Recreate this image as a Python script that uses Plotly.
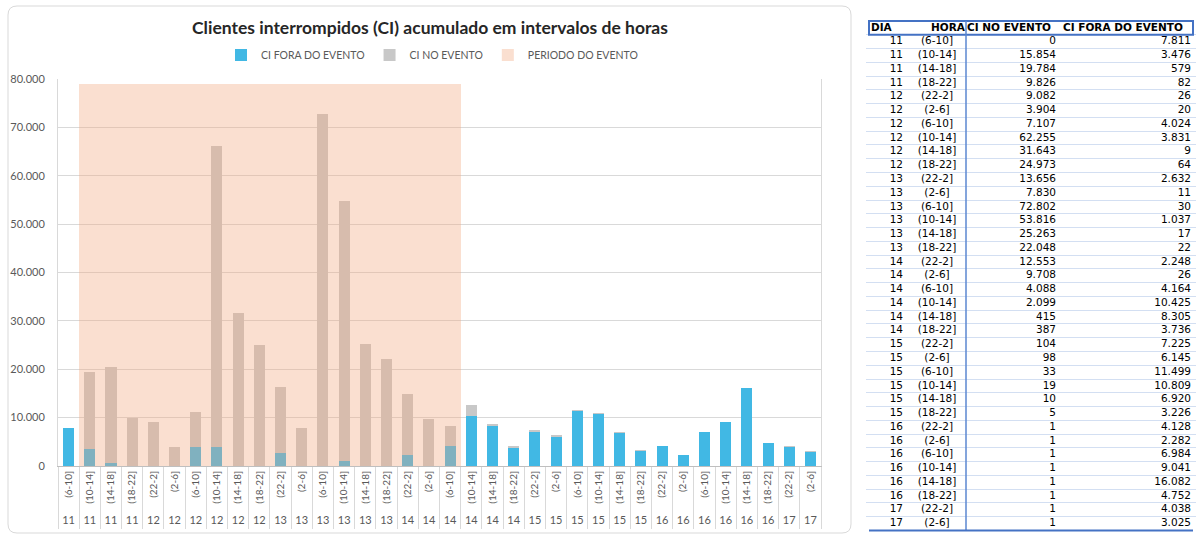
import plotly.graph_objects as go

dias = [11, 11, 11, 11, 12, 12, 12, 12, 12, 12, 13, 13, 13, 13, 13, 13, 14, 14,
        14, 14, 14, 14, 15, 15, 15, 15, 15, 15, 16, 16, 16, 16, 16, 16, 17, 17]
horas = ["(6-10]", "(10-14]", "(14-18]", "(18-22]", "(22-2]", "(2-6]", "(6-10]", "(10-14]",
         "(14-18]", "(18-22]", "(22-2]", "(2-6]", "(6-10]", "(10-14]", "(14-18]", "(18-22]",
         "(22-2]", "(2-6]", "(6-10]", "(10-14]", "(14-18]", "(18-22]", "(22-2]", "(2-6]",
         "(6-10]", "(10-14]", "(14-18]", "(18-22]", "(22-2]", "(2-6]", "(6-10]", "(10-14]",
         "(14-18]", "(18-22]", "(22-2]", "(2-6]"]
ci_no_evento = [0, 15854, 19784, 9826, 9082, 3904, 7107, 62255, 31643, 24973, 13656, 7830,
                72802, 53816, 25263, 22048, 12553, 9708, 4088, 2099, 415, 387, 104, 98,
                33, 19, 10, 5, 1, 1, 1, 1, 1, 1, 1, 1]
ci_fora_evento = [7811, 3476, 579, 82, 26, 20, 4024, 3831, 9, 64, 2632, 11, 30, 1037, 17, 22,
                  2248, 26, 4164, 10425, 8305, 3736, 7225, 6145, 11499, 10809, 6920, 3226,
                  4128, 2282, 6984, 9041, 16082, 4752, 4038, 3025]
periodo_evento = [0, 79000, 79000, 79000, 79000, 79000, 79000, 79000, 79000, 79000, 79000,
                  79000, 79000, 79000, 79000, 79000, 79000, 79000, 79000, 0, 0, 0, 0, 0, 0,
                  0, 0, 0, 0, 0, 0, 0, 0, 0, 0, 0]
y_ticks = [0, 10000, 20000, 30000, 40000, 50000, 60000, 70000, 80000]
table_header = ["DIA", "HORA", "CI NO EVENTO", "CI FORA DO EVENTO"]

W, H = 1200, 534
cats = [f"{d} {h}" for d, h in zip(dias, horas)]
n = len(dias)


def px_x(x):
    return x / W


def px_y(y):
    return 1 - y / H


def fmt(v):
    return f"{v:,}".replace(",", ".")


BLUE = "#41B8E4"
GRAY = "#C8C8C8"
PEACH = "rgba(241,167,125,0.36)"
TXT = "#595959"
FONT = "Lato"
TFONT = "DejaVu Sans"
TSIZE = 10.5

fig = go.Figure()
fig.add_trace(go.Bar(x=cats, y=ci_fora_evento, name="CI FORA DO EVENTO",
                     marker=dict(color=BLUE, line=dict(width=0)), xaxis="x", yaxis="y"))
fig.add_trace(go.Bar(x=cats, y=ci_no_evento, name="CI NO EVENTO",
                     marker=dict(color=GRAY, line=dict(width=0)), xaxis="x", yaxis="y"))
fig.add_trace(go.Bar(x=cats, y=periodo_evento, name="PERIODO DO EVENTO", width=1,
                     marker=dict(color=PEACH, line=dict(width=0)), xaxis="x2", yaxis="y"))

# ---- table drawn as text on its own axes (x in px units of the table box, y = row) ----
rows = list(range(1, n + 1))
table_cols = [
    # (values, anchor x, textposition)
    ([str(d) for d in dias], 903, "middle left"),
    (horas, 937, "middle center"),
    ([fmt(v) for v in ci_no_evento], 1056, "middle left"),
    ([fmt(v) for v in ci_fora_evento], 1191, "middle left"),
]
header_cols = [(871, "middle right"), (965, "middle left"), (967, "middle right"),
               (1063, "middle right")]

for vals, xa, tp in table_cols:
    fig.add_trace(go.Scatter(x=[xa] * n, y=rows, text=vals, mode="text", textposition=tp,
                             textfont=dict(family=TFONT, size=TSIZE, color="black"),
                             xaxis="x3", yaxis="y3", showlegend=False, hoverinfo="skip"))
fig.add_trace(go.Scatter(x=[c[0] for c in header_cols], y=[0] * len(header_cols),
                         text=["<b>" + h + "</b>" for h in table_header], mode="text",
                         textposition=[c[1] for c in header_cols],
                         textfont=dict(family=TFONT, size=TSIZE, color="black"),
                         xaxis="x3", yaxis="y3", showlegend=False, hoverinfo="skip"))

x0, x1, y0, y1, r = 8, 851, 6, 533, 9
path = (f"M {px_x(x0 + r)},{px_y(y0)} L {px_x(x1 - r)},{px_y(y0)} "
        f"Q {px_x(x1)},{px_y(y0)} {px_x(x1)},{px_y(y0 + r)} L {px_x(x1)},{px_y(y1 - r)} "
        f"Q {px_x(x1)},{px_y(y1)} {px_x(x1 - r)},{px_y(y1)} L {px_x(x0 + r)},{px_y(y1)} "
        f"Q {px_x(x0)},{px_y(y1)} {px_x(x0)},{px_y(y1 - r)} L {px_x(x0)},{px_y(y0 + r)} "
        f"Q {px_x(x0)},{px_y(y0)} {px_x(x0 + r)},{px_y(y0)} Z")

shapes = [
    dict(type="path", path=path, xref="paper", yref="paper",
         line=dict(color="#D9D9D9", width=1), layer="below"),
    # table header box, column divider and bottom rule
    dict(type="rect", xref="x3", yref="y3", x0=869, x1=1193, y0=-0.5, y1=0.5,
         line=dict(color="#4472C4", width=2)),
    dict(type="line", xref="x3", yref="y3", x0=966, x1=966, y0=-0.5, y1=n + 0.5,
         line=dict(color="#5B87D0", width=1.5)),
    dict(type="line", xref="x3", yref="y3", x0=869, x1=1193, y0=n + 0.5, y1=n + 0.5,
         line=dict(color="#4472C4", width=2)),
]

row_h = (530.5 - 21) / (n + 1)
pad_rows = 0.2

fig.update_layout(
    width=W, height=H,
    margin=dict(l=0, r=0, t=0, b=0),
    paper_bgcolor="white", plot_bgcolor="white",
    separators=",.",
    barmode="stack", bargap=0.48,
    font=dict(family=FONT, size=11, color=TXT),
    title=dict(text="<b>Clientes interrompidos (CI) acumulado em intervalos de horas</b>",
               x=px_x(430), xanchor="center", y=px_y(28), yanchor="middle",
               font=dict(family=FONT, size=17.5, color="#262626")),
    legend=dict(orientation="h", x=px_x(432), xanchor="center", y=px_y(55), yanchor="middle",
                font=dict(family=FONT, size=10.5, color=TXT), itemwidth=30,
                traceorder="normal", bgcolor="rgba(0,0,0,0)"),
    showlegend=True,
    xaxis=dict(domain=[px_x(58), px_x(821)], type="category", categoryorder="array",
               categoryarray=cats, range=[-0.5, 35.5], tickmode="array", tickvals=cats,
               ticktext=horas, tickangle=-90, ticks="outside", tickson="boundaries",
               ticklen=62, tickcolor="#D9D9D9", tickwidth=1, ticklabelstandoff=0,
               showline=True, linecolor="#BFBFBF", linewidth=1, showgrid=False,
               tickfont=dict(family=FONT, size=10, color=TXT), automargin=False,
               anchor="y", fixedrange=True),
    xaxis2=dict(overlaying="x", anchor="y", side="bottom", type="category",
                categoryorder="array", categoryarray=cats, range=[-0.5, 35.5],
                tickmode="array", tickvals=cats, ticktext=[str(d) for d in dias],
                tickangle=0, ticks="", showline=False, showgrid=False, ticklabelstandoff=46,
                tickfont=dict(family=FONT, size=11, color=TXT), automargin=False),
    yaxis=dict(domain=[px_y(466), px_y(79)], range=[0, 80000], tickmode="array",
               tickvals=y_ticks, tickformat=",d", showgrid=True, gridcolor="#D9D9D9",
               gridwidth=1, showline=True, mirror=True, linecolor="#D9D9D9", linewidth=1,
               zeroline=False, ticks="", ticklabelstandoff=10,
               tickfont=dict(family=FONT, size=11, color=TXT), automargin=False),
    xaxis3=dict(domain=[px_x(866), px_x(1196)], range=[866, 1196], anchor="y3",
                visible=False, fixedrange=True),
    yaxis3=dict(domain=[px_y(530.5 + pad_rows * row_h), px_y(21 - pad_rows * row_h)],
                range=[n + 0.5 + pad_rows, -0.5 - pad_rows], anchor="x3",
                tickmode="array", tickvals=[k + 0.5 for k in range(n)], showgrid=True,
                gridcolor="#D3DFF2", gridwidth=1, showticklabels=False, ticks="",
                showline=False, zeroline=False, fixedrange=True),
    shapes=shapes,
)

fig.write_html("out.html", config={"displayModeBar": False},
               post_script="document.body.style.margin='0';document.body.style.overflow='hidden';")
